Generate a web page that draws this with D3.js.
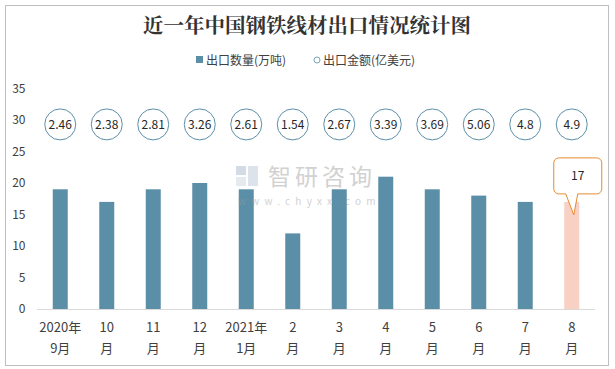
<!DOCTYPE html>
<html><head><meta charset="utf-8">
<script src="https://cdn.jsdelivr.net/npm/d3@7/dist/d3.min.js"></script>
<style>body{margin:0;background:#fff}svg{display:block}</style>
</head><body><svg id="c" width="615" height="369"></svg>
<script>
const categories = [["2020年","9月"],["10","月"],["11","月"],["12","月"],["2021年","1月"],["2","月"],["3","月"],["4","月"],["5","月"],["6","月"],["7","月"],["8","月"]];
const quantity = [19,17,19,20,19,12,19,21,19,18,17,17];
const amount = [2.46,2.38,2.81,3.26,2.61,1.54,2.67,3.39,3.69,5.06,4.8,4.9];
const yTicks = [0,5,10,15,20,25,30,35];
const title = "近一年中国钢铁线材出口情况统计图";
const legendNames = ["出口数量(万吨)","出口金额(亿美元)"];

(function(){
const svg = d3.select("#c");
const font = "'Noto Sans CJK SC','Microsoft YaHei',sans-serif";
svg.append("rect").attr("x",5.5).attr("y",5.5).attr("width",603).attr("height",360)
  .attr("fill","#fff").attr("stroke","#bfbfbf");

svg.append("text").attr("x",307).attr("y",33).attr("text-anchor","middle")
  .attr("font-family","'Noto Serif CJK SC','Noto Sans CJK SC',serif").attr("font-weight","bold")
  .attr("font-size",20.5).attr("fill","#333").text(title);

// legend
svg.append("rect").attr("x",196).attr("y",56).attr("width",7).attr("height",7).attr("fill","#5b8fa8");
svg.append("text").attr("x",206).attr("y",64.5).attr("font-family",font).attr("font-size",12).attr("fill","#404040").text(legendNames[0]);
svg.append("circle").attr("cx",317).attr("cy",60).attr("r",3).attr("fill","#fff").attr("stroke","#7aa3b8");
svg.append("text").attr("x",323).attr("y",64.5).attr("font-family",font).attr("font-size",12).attr("fill","#404040").text(legendNames[1]);

const x = d3.scaleBand().domain(d3.range(categories.length)).range([37,595]);
const y = d3.scaleLinear().domain([0,35]).range([309,88.5]);

// y labels
svg.selectAll(".yt").data(yTicks).enter().append("text")
  .attr("x",25.5).attr("y",d=>y(d)+4).attr("text-anchor","end")
  .attr("font-family",font).attr("font-size",12).attr("fill","#404040").text(d=>d);

// bars
const bw = 15;
svg.selectAll(".bar").data(quantity).enter().append("rect")
  .attr("x",(d,i)=>x(i)+x.bandwidth()/2-bw/2).attr("width",bw)
  .attr("y",d=>y(d)).attr("height",d=>y(0)-y(d))
  .attr("fill",(d,i)=>i===quantity.length-1?"#f8d0c4":"#5b8fa8");

// watermark
const wm = svg.append("g").attr("opacity",0.45);
wm.append("rect").attr("x",236).attr("y",166).attr("width",10).attr("height",9).attr("fill","#9fb3c8");
wm.append("rect").attr("x",236).attr("y",177).attr("width",10).attr("height",9).attr("fill","#c8d2dc");
wm.append("rect").attr("x",248).attr("y",166).attr("width",10).attr("height",20).attr("fill","#b6c3d1");
wm.append("text").attr("font-family",font).attr("fill","#9a9a9a")
  .attr("x",268).attr("y",185).attr("font-size",23).attr("letter-spacing",4).text("智研咨询");
wm.append("text").attr("font-family",font).attr("fill","#9a9a9a")
  .attr("x",238).attr("y",205).attr("font-size",10).attr("letter-spacing",5.2).text("www.chyxx.com");

// axis line
svg.append("line").attr("x1",37).attr("x2",595).attr("y1",309.5).attr("y2",309.5).attr("stroke","#d9d9d9");

// x labels
categories.forEach((c,i)=>{
  const cx = x(i)+x.bandwidth()/2;
  const t = svg.append("text").attr("text-anchor","middle").attr("font-family",font).attr("font-size",13).attr("fill","#404040");
  t.append("tspan").attr("x",cx).attr("y",332).text(c[0]);
  t.append("tspan").attr("x",cx).attr("y",353).text(c[1]);
});

// amount circles
const cy = y(29.3);
const g = svg.selectAll(".amt").data(amount).enter().append("g")
  .attr("transform",(d,i)=>`translate(${x(i)+x.bandwidth()/2},${cy})`);
g.append("circle").attr("r",15.5).attr("fill","#fff").attr("stroke","#5b8fa8");
g.append("text").attr("y",4.5).attr("text-anchor","middle").attr("font-family",font)
  .attr("font-size",12).attr("fill","#262626").text(d=>d);

// callout for last bar
const li = quantity.length-1;
const lx = x(li)+x.bandwidth()/2;
const barTop = y(quantity[li]);
const bx0 = lx-18, bx1 = lx+30, by0 = barTop-44, by1 = barTop-8, r = 5;
const tipX = lx+2, tipY = barTop+13;
const p = d3.path();
p.moveTo(bx0+r,by0); p.lineTo(bx1-r,by0); p.arcTo(bx1,by0,bx1,by0+r,r);
p.lineTo(bx1,by1-r); p.arcTo(bx1,by1,bx1-r,by1,r);
p.lineTo(lx+6,by1); p.lineTo(tipX,tipY); p.lineTo(lx-6,by1);
p.lineTo(bx0+r,by1); p.arcTo(bx0,by1,bx0,by1-r,r);
p.lineTo(bx0,by0+r); p.arcTo(bx0,by0,bx0+r,by0,r); p.closePath();
svg.append("path").attr("d",p.toString()).attr("fill","#fff").attr("stroke","#e88a2e").attr("stroke-width",1);
svg.append("text").attr("x",(bx0+bx1)/2).attr("y",(by0+by1)/2+4.5).attr("text-anchor","middle")
  .attr("font-family",font).attr("font-size",12).attr("fill","#262626").text(quantity[li]);
})();
</script></body></html>
